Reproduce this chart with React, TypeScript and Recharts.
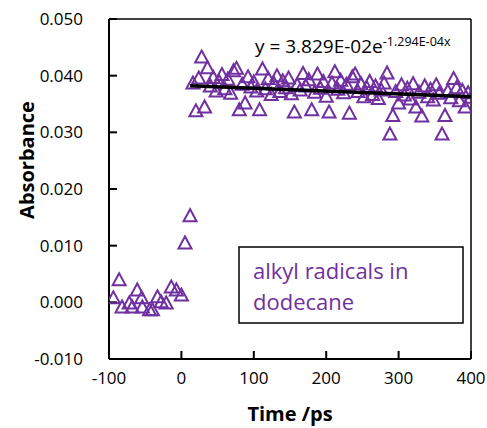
import React from "react";
import {
  ScatterChart,
  Scatter,
  XAxis,
  YAxis,
  ReferenceLine,
} from "recharts";

// time (ps) and absorbance of the measured points
const preTimes = [-94, -86, -82, -72, -68, -61, -55, -54, -44, -40, -33, -28, -21, -14, -7, 0, 5, 12];
const preValues = [0.0007, 0.0039, -0.0009, -0.0002, -0.0009, 0.0021, 0.0007, -0.0009, -0.0014, -0.0014, 0.0009, 0.0, -0.0002, 0.0026, 0.0021, 0.0012, 0.0104, 0.0152];

const plateauTimes = [
  16, 20, 24, 28, 32, 36, 40, 44, 48, 52, 56, 60, 64, 68, 72, 76, 80, 84, 88, 92,
  96, 100, 104, 108, 112, 116, 120, 124, 128, 132, 136, 140, 144, 148, 152, 156, 160, 164, 168, 172,
  176, 180, 184, 188, 192, 196, 200, 204, 208, 212, 216, 220, 224, 228, 232, 236, 240, 244, 248, 252,
  256, 260, 264, 268, 272, 276, 280, 284, 288, 292, 296, 300, 304, 308, 312, 316, 320, 324, 328, 332,
  336, 340, 344, 348, 352, 356, 360, 364, 368, 372, 376, 380, 384, 388, 392, 396, 400,
];
const plateauValues = [
  0.0386, 0.0337, 0.0395, 0.0432, 0.0344, 0.0413, 0.0381, 0.0396, 0.0372, 0.0389, 0.0401, 0.0376, 0.0393, 0.0368, 0.0408, 0.0412, 0.0339, 0.0384, 0.0351, 0.0397,
  0.0379, 0.0388, 0.0372, 0.0339, 0.0411, 0.0376, 0.0394, 0.0366, 0.0385, 0.0399, 0.0371, 0.039, 0.0378, 0.0395, 0.0367, 0.0335, 0.0383, 0.0374, 0.0403, 0.0381,
  0.0392, 0.0339, 0.037, 0.0402, 0.0377, 0.0389, 0.0363, 0.0335, 0.0386, 0.0406, 0.0375, 0.0391, 0.0369, 0.0384, 0.0333, 0.0397, 0.0402, 0.0371, 0.0385, 0.0362,
  0.0378, 0.0389, 0.0366, 0.0381, 0.0359, 0.0374, 0.0386, 0.0404, 0.0296, 0.0329, 0.0371, 0.0351, 0.0383, 0.0365, 0.0377, 0.0358, 0.0385, 0.0344, 0.037, 0.0328,
  0.0381, 0.0362, 0.0375, 0.0356, 0.0383, 0.0368, 0.0296, 0.0329, 0.0372, 0.036, 0.0394, 0.0378, 0.0355, 0.0373, 0.0344, 0.0369, 0.0361,
];

// exponential fit, drawn between its two ends
const fitTimes = [12, 400];
const fitValues = [0.0382, 0.0363];

const xTicks = [-100, 0, 100, 200, 300, 400];
const yTicks = [-0.01, 0.0, 0.01, 0.02, 0.03, 0.04, 0.05];

const PURPLE = "#7030A0";
const FONT = "'Open Sans', sans-serif";

const points = [
  ...preTimes.map((t, i) => ({ t, a: preValues[i] })),
  ...plateauTimes.map((t, i) => ({ t, a: plateauValues[i] })),
];
const fit = fitTimes.map((t, i) => ({ t, a: fitValues[i] }));

const Triangle = (props: any) => {
  const { cx, cy } = props;
  if (cx == null || cy == null) return <g />;
  return (
    <polygon
      points={`${cx},${cy - 7} ${cx - 6.5},${cy + 5} ${cx + 6.5},${cy + 5}`}
      fill="none"
      stroke={PURPLE}
      strokeWidth={2}
    />
  );
};

export default function App() {
  return (
    <div style={{ position: "absolute", left: 0, top: 0, width: 487, height: 428, background: "#fff" }}>
      <ScatterChart
        width={487}
        height={428}
        margin={{ top: 19, right: 16, bottom: 9, left: 9 }}
      >
        <XAxis
          type="number"
          dataKey="t"
          domain={[-100, 400]}
          ticks={xTicks}
          allowDataOverflow
          axisLine={{ stroke: "#000", strokeWidth: 2 }}
          tickLine={{ stroke: "#000", strokeWidth: 2 }}
          tickSize={-8}
          tickMargin={21}
          height={60}
          tick={{ fill: "#000", fontSize: 17, fontFamily: FONT }}
        />
        <YAxis
          type="number"
          dataKey="a"
          domain={[-0.01, 0.05]}
          ticks={yTicks}
          allowDataOverflow
          tickFormatter={(v: number) => v.toFixed(3)}
          axisLine={{ stroke: "#000", strokeWidth: 2 }}
          tickLine={{ stroke: "#000", strokeWidth: 2 }}
          tickSize={-8}
          tickMargin={34}
          width={100}
          tick={{ fill: "#000", fontSize: 17, fontFamily: FONT }}
        />
        <ReferenceLine y={0.05} stroke="#000" strokeWidth={1.5} />
        <ReferenceLine x={400} stroke="#000" strokeWidth={1.5} />
        <Scatter data={points} shape={Triangle} isAnimationActive={false} />
        <Scatter
          data={fit}
          line={{ stroke: "#000", strokeWidth: 3.5 }}
          shape={() => <g />}
          isAnimationActive={false}
        />
      </ScatterChart>
      <svg
        width={487}
        height={428}
        style={{ position: "absolute", left: 0, top: 0, pointerEvents: "none" }}
      >
        <text
          x={290}
          y={421}
          textAnchor="middle"
          fontFamily={FONT}
          fontSize={20}
          fontWeight="bold"
        >
          Time /ps
        </text>
        <text
          x={34}
          y={160}
          textAnchor="middle"
          transform="rotate(-90 34 160)"
          fontFamily={FONT}
          fontSize={20}
          fontWeight="bold"
        >
          Absorbance
        </text>
        <text x={255} y={53} fontFamily={FONT} fontSize={19}>
          y = 3.829E-02e
          <tspan fontSize={12.5} dy={-7}>-1.294E-04x</tspan>
        </text>
        <rect x={239} y={247} width={224} height={76} fill="#fff" stroke="#000" strokeWidth={1.5} />
        <text x={253} y={279} fontFamily={FONT} fontSize={22} fill={PURPLE}>
          alkyl radicals in
        </text>
        <text x={253} y={310} fontFamily={FONT} fontSize={22} fill={PURPLE}>
          dodecane
        </text>
      </svg>
    </div>
  );
}
